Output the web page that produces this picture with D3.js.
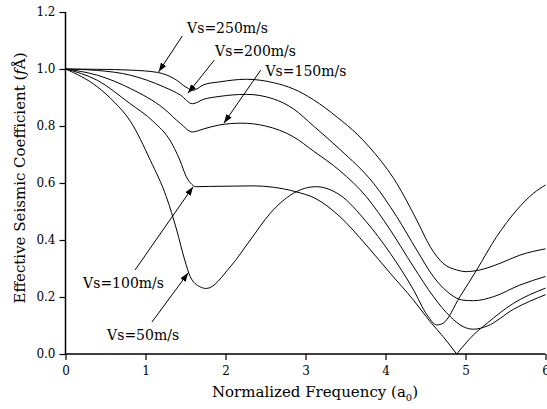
<!DOCTYPE html>
<html>
<head>
<meta charset="utf-8">
<script src="https://cdn.jsdelivr.net/npm/d3@7"></script>
<style>
  html, body { margin: 0; padding: 0; background: #fff; }
  svg { display: block; }
  text { font-family: "DejaVu Serif", "Liberation Serif", serif; fill: #000; }
</style>
</head>
<body>
<svg id="chart" width="547" height="409"></svg>
<script>
// Effective seismic coefficient vs. normalized frequency, one curve per shear-wave velocity.
// Each point is [a0, coefficient].
const vs250 = [[0,1.0],[0.4,0.999],[0.82,0.996],[1.15,0.988],[1.36,0.966],[1.52,0.934],[1.59,0.925],
  [1.73,0.945],[1.93,0.955],[2.26,0.964],[2.6,0.952],[2.85,0.93],[3.1,0.892],[3.4,0.83],[3.65,0.77],
  [3.83,0.716],[4.14,0.599],[4.39,0.47],[4.56,0.376],[4.72,0.318],[4.89,0.295],[5.01,0.289],[5.18,0.295],
  [5.43,0.318],[5.68,0.347],[6.0,0.369]];
const vs200 = [[0,1.0],[0.4,0.995],[0.815,0.978],[1.23,0.937],[1.44,0.908],[1.585,0.878],[1.73,0.894],
  [1.93,0.904],[2.26,0.911],[2.6,0.895],[2.85,0.86],[3.1,0.80],[3.43,0.718],[3.85,0.599],[4.14,0.482],
  [4.39,0.365],[4.6,0.271],[4.77,0.219],[4.97,0.189],[5.1,0.187],[5.35,0.201],[5.68,0.242],[6.0,0.272]];
const vs150 = [[0,1.0],[0.4,0.978],[0.815,0.931],[1.23,0.861],[1.44,0.808],[1.585,0.779],[1.73,0.79],
  [1.93,0.804],[2.2,0.81],[2.5,0.8],[2.85,0.762],[3.1,0.712],[3.43,0.643],[3.76,0.552],[4.06,0.435],
  [4.35,0.306],[4.6,0.201],[4.81,0.131],[4.97,0.096],[5.1,0.087],[5.27,0.098],[5.6,0.157],[6.0,0.208]];
const vs100 = [[0,1.0],[0.4,0.96],[0.8,0.88],[1.1,0.815],[1.31,0.748],[1.43,0.68],[1.51,0.622],
  [1.58,0.595],[1.62,0.587],[1.8,0.588],[2.1,0.589],[2.35,0.59],[2.6,0.585],[2.87,0.57],[3.13,0.545],
  [3.43,0.482],[3.76,0.382],[4.06,0.283],[4.35,0.189],[4.56,0.113],[4.72,0.061],[4.89,0.0],
  [5.1,0.067],[5.27,0.108],[5.6,0.178],[6.0,0.231]];
const vs50 = [[0,1.0],[0.4,0.937],[0.61,0.884],[0.815,0.815],[1.06,0.68],[1.26,0.552],[1.39,0.435],
  [1.49,0.33],[1.56,0.271],[1.68,0.236],[1.76,0.23],[2.06,0.306],[2.31,0.40],[2.56,0.494],[2.85,0.564],
  [3.13,0.587],[3.43,0.558],[3.76,0.464],[4.06,0.353],[4.35,0.225],[4.52,0.137],[4.64,0.102],[4.72,0.108],
  [4.93,0.201],[5.14,0.295],[5.39,0.412],[5.64,0.505],[5.85,0.564],[6.0,0.593]];

const seriesNames = ["Vs=250m/s", "Vs=200m/s", "Vs=150m/s", "Vs=100m/s", "Vs=50m/s"];
const seriesData = [vs250, vs200, vs150, vs100, vs50];

const xTicks = [0, 1, 2, 3, 4, 5, 6];
const xMinorTicks = [0.5, 1.5, 2.5, 3.5, 4.5, 5.5];
const yTicks = [0.0, 0.2, 0.4, 0.6, 0.8, 1.0, 1.2];
const yMinorTicks = [0.1, 0.3, 0.5, 0.7, 0.9, 1.1];

// Callouts: label anchor (data coords) and the point on the curve the arrow meets.
const calloutText = seriesNames;
const calloutLabelPos = [[1.52, 1.126], [1.87, 1.046], [2.5, 0.975], [0.22, 0.232], [0.52, 0.049]];
const calloutTail = [[1.46, 1.116], [1.86, 1.031], [2.44, 0.996], [0.87, 0.295], [1.08, 0.112]];
const calloutHead = [[1.165, 0.99], [1.53, 0.915], [1.98, 0.81], [1.595, 0.587], [1.535, 0.285]];

const svg = d3.select("#chart");
const margin = { left: 65.5, right: 1.5, top: 12, bottom: 55 };
const W = 547, H = 409;

const x = d3.scaleLinear().domain([0, 6]).range([margin.left, W - margin.right]);
const y = d3.scaleLinear().domain([0, 1.2]).range([H - margin.bottom, margin.top]);

// arrowhead marker
svg.append("defs").append("marker")
  .attr("id", "arrow")
  .attr("viewBox", "0 0 10 10")
  .attr("refX", 10).attr("refY", 5)
  .attr("markerWidth", 9).attr("markerHeight", 9)
  .attr("markerUnits", "userSpaceOnUse")
  .attr("orient", "auto")
  .append("path").attr("d", "M0,1.5 L10,5 L0,8.5 Z").attr("fill", "#000");

// curves
const line = d3.line()
  .x(d => x(d[0]))
  .y(d => y(d[1]))
  .curve(d3.curveMonotoneX);

// split a series where it touches zero, so the cusp stays sharp
function segments(data) {
  const out = [];
  let cur = [];
  data.forEach((d, i) => {
    cur.push(d);
    if (d[1] === 0 && i > 0 && i < data.length - 1) {
      out.push(cur);
      cur = [d];
    }
  });
  out.push(cur);
  return out;
}

const gCurves = svg.append("g");
seriesData.forEach(data => {
  segments(data).forEach(seg => {
    gCurves.append("path")
      .attr("d", line(seg))
      .attr("fill", "none")
      .attr("stroke", "#000")
      .attr("stroke-width", 1);
  });
});

// axes
const fmt = d3.format(".1f");
const gx = svg.append("g").attr("transform", `translate(0,${y(0)})`);
gx.call(d3.axisBottom(x).tickValues(xMinorTicks).tickSize(4).tickFormat(""));
gx.call(d3.axisBottom(x).tickValues(xTicks).tickSize(6).tickPadding(6).tickFormat(d3.format("d")));

const gy = svg.append("g").attr("transform", `translate(${x(0)},0)`);
gy.call(d3.axisLeft(y).tickValues(yMinorTicks).tickSize(4).tickFormat(""));
gy.call(d3.axisLeft(y).tickValues(yTicks).tickSize(6).tickPadding(4).tickFormat(fmt));

[gx, gy].forEach(g => {
  g.selectAll(".domain").attr("stroke", "#000").attr("stroke-width", 1.5);
  g.selectAll(".tick line").attr("stroke", "#000").attr("stroke-width", 1.2);
  g.selectAll("text").attr("font-family", "DejaVu Serif").attr("font-size", 12).attr("fill", "#000");
});
gx.selectAll(".domain").attr("d", `M${x(0)},0H${x(6)}`);
gy.selectAll(".domain").attr("d", `M0,${y(0)}V${y(1.2)}`);

// callouts
const gCall = svg.append("g");
calloutText.forEach((t, i) => {
  gCall.append("line")
    .attr("x1", x(calloutTail[i][0])).attr("y1", y(calloutTail[i][1]))
    .attr("x2", x(calloutHead[i][0])).attr("y2", y(calloutHead[i][1]))
    .attr("stroke", "#000").attr("stroke-width", 1)
    .attr("marker-end", "url(#arrow)");
  gCall.append("text")
    .attr("x", x(calloutLabelPos[i][0])).attr("y", y(calloutLabelPos[i][1]))
    .attr("font-size", 14)
    .text(t);
});

// axis titles
svg.append("text")
  .attr("x", 315).attr("y", 397)
  .attr("text-anchor", "middle")
  .attr("font-size", 15)
  .call(t => {
    t.append("tspan").text("Normalized Frequency (a");
    t.append("tspan").attr("font-size", 10).attr("dy", 4).text("0");
    t.append("tspan").attr("dy", -4).text(")");
  });

svg.append("text")
  .attr("transform", `translate(25,178) rotate(-90)`)
  .attr("text-anchor", "middle")
  .attr("font-size", 15)
  .call(t => {
    t.append("tspan").text("Effective Seismic Coefficient (");
    t.append("tspan").attr("font-style", "italic").text("f");
    t.append("tspan").text("Å)");
  });
</script>
</body>
</html>
